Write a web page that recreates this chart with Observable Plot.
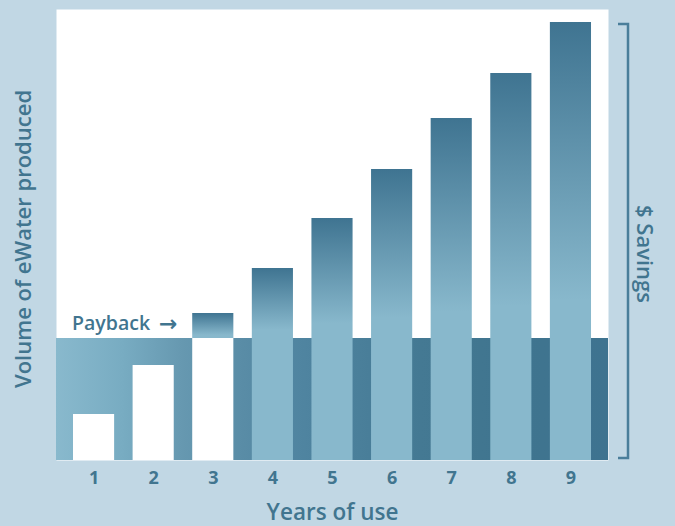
<!DOCTYPE html>
<html>
<head>
<meta charset="utf-8">
<script src="https://cdn.jsdelivr.net/npm/d3@7"></script>
<script src="https://cdn.jsdelivr.net/npm/@observablehq/plot@0.6"></script>
<style>
  html, body { margin: 0; padding: 0; background: #c1d7e4; }
  #chart { width: 675px; height: 526px; }
</style>
</head>
<body>
<div id="chart"></div>
<script>
// Data
const years = [1, 2, 3, 4, 5, 6, 7, 8, 9];
const volume = [46, 95, 147, 192, 242, 291, 342, 387, 438];
const payback = 122;           // cost level reached in year 3
const paybackYear = 3;
const xTitle = "Years of use";
const yTitle = "Volume of eWater produced";
const rightTitle = "$ Savings";
const paybackLabel = "Payback";
const paybackArrow = "\u2192";

const table = years.map((y, i) => ({year: y, value: volume[i]}));
const above = table.filter(d => d.value > payback);

const textColor = "#41758f";
const font = "'Open Sans', 'Noto Sans', sans-serif";

function defs() {
  const d = d3.create("svg:defs");
  const band = d.append("linearGradient").attr("id", "bandGrad")
    .attr("x1", 0).attr("x2", 1).attr("y1", 0).attr("y2", 0);
  [[0, "#89b9cd"], [0.12, "#78acc2"], [0.23, "#6698b0"], [0.34, "#598ca6"],
   [0.45, "#4f84a0"], [0.55, "#4a7f9a"], [0.66, "#447993"], [0.77, "#417690"],
   [0.88, "#3f748f"], [1, "#3e7390"]].forEach(([o, c]) =>
    band.append("stop").attr("offset", o).attr("stop-color", c));
  const bar = d.append("linearGradient").attr("id", "barGrad")
    .attr("x1", 0).attr("x2", 0).attr("y1", 0).attr("y2", 1);
  [[0, "#3f7491"], [0.88, "#88b8cc"], [1, "#88b8cc"]].forEach(([o, c]) =>
    bar.append("stop").attr("offset", o).attr("stop-color", c));
  return d.node();
}

const chart = Plot.plot({
  width: 675,
  height: 526,
  marginLeft: 56,
  marginRight: 67,
  marginTop: 9,
  marginBottom: 66,
  style: {background: "#c1d7e4", fontFamily: font, color: textColor, overflow: "visible"},
  x: {domain: years, paddingInner: 0.31, paddingOuter: 0.285, round: false},
  y: {domain: [0, 451], axis: null},
  marks: [
    defs,
    Plot.frame({fill: "white", stroke: null}),
    Plot.rect([payback], {y1: 0, y2: d => d, fill: "url(#bandGrad)"}),
    Plot.barY(table, {x: "year", y1: 0, y2: d => Math.min(d.value, payback),
      fill: d => d.year <= paybackYear ? "white" : "#88b8cc"}),
    Plot.barY(above, {x: "year", y1: payback, y2: "value", fill: "url(#barGrad)"}),
    Plot.axisX({tickSize: 0, tickPadding: 11, fontSize: 18, fontWeight: 700, label: null, fill: textColor}),
    Plot.text([xTitle], {frameAnchor: "bottom", textAnchor: "middle", lineAnchor: "middle", dy: 52, fontSize: 22.5, fontWeight: 600, fill: textColor, fontFamily: font}),
    Plot.text([yTitle], {frameAnchor: "left", textAnchor: "middle", lineAnchor: "middle", rotate: -90, dx: -33, dy: 4, fontSize: 22, fontWeight: 600, fill: textColor, fontFamily: font}),
    Plot.text([rightTitle], {frameAnchor: "right", textAnchor: "middle", lineAnchor: "middle", rotate: 90, dx: 36, dy: 19, fontSize: 22, fontWeight: 600, fill: textColor, fontFamily: font}),
    Plot.text([paybackLabel], {x: () => 1, y: () => payback, textAnchor: "start", lineAnchor: "middle", dx: -22, dy: -15, fontSize: 19.5, fontWeight: 600, fill: textColor, fontFamily: font}),
    Plot.text([paybackArrow], {x: () => 1, y: () => payback, textAnchor: "start", lineAnchor: "middle", dx: 65, dy: -15, fontSize: 22, fontWeight: 700, fill: textColor, fontFamily: "'DejaVu Sans', sans-serif"}),
    // Savings bracket: spans from 0 to the maximum volume, drawn to the right of the frame
    Plot.ruleY([d3.max(volume)], {
      render(index, scales, values, dims) {
        const xr = dims.width - dims.marginRight + 20;
        const yt = scales.y(d3.max(volume)) + 2;
        const yb = scales.y(0) - 2;
        return d3.create("svg:path")
          .attr("d", `M${xr - 10},${yt}H${xr}V${yb}H${xr - 10}`)
          .attr("fill", "none").attr("stroke", "#4a7e9a").attr("stroke-width", 2.5)
          .node();
      }
    })
  ]
});
document.getElementById("chart").append(chart);
</script>
</body>
</html>
